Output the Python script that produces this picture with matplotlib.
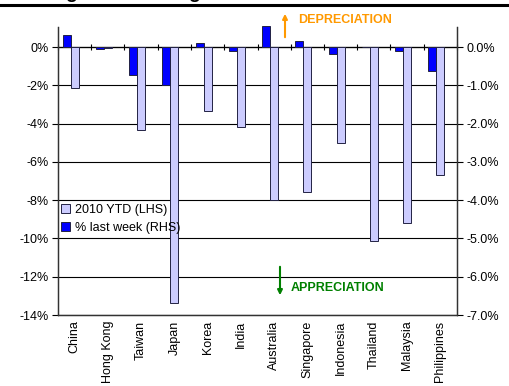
import numpy as np
import matplotlib
matplotlib.use("Agg")
import matplotlib.pyplot as plt
from matplotlib.patches import Patch

countries = ["China", "Hong Kong", "Taiwan", "Japan", "Korea", "India", "Australia",
             "Singapore", "Indonesia", "Thailand", "Malaysia", "Philippines"]
ytd_2010 = [-2.15, -0.05, -4.35, -13.35, -3.35, -4.2, -8.0, -7.55, -5.0, -10.15, -9.2, -6.7]
last_week = [0.31, -0.06, -0.72, -1.0, 0.11, -0.1, 0.55, 0.16, -0.17, 0.0, -0.1, -0.62]
lhs_ticks = [-14, -12, -10, -8, -6, -4, -2, 0]
rhs_ticks = [-7, -6, -5, -4, -3, -2, -1, 0]

plt.rcParams['font.family'] = ['Liberation Sans', 'DejaVu Sans']
plt.rcParams['font.size'] = 9

light = "#CCCCFF"
blue = "#0000FF"
edge = "#222244"

fig = plt.figure(figsize=(5.10, 3.86), dpi=100)
ax = fig.add_axes([58/510, 1-315/386, (457-58)/510, (315-27)/386])
ax2 = ax.twinx()

x = np.arange(len(countries))
w = 0.24
ax.bar(x, ytd_2010, w, color=light, edgecolor=edge, lw=0.7, zorder=3)
ax2.bar(x - w, last_week, w, color=blue, edgecolor=edge, lw=0.7, zorder=3, clip_on=False)

ymax = 1.05
ax.set_ylim(-14, ymax)
ax2.set_ylim(-7, ymax/2)
ax.set_xlim(-0.5, len(countries) - 0.5)

ax.set_yticks(lhs_ticks)
ax.set_yticklabels(["%d%%" % t for t in lhs_ticks])
ax2.set_yticks(rhs_ticks)
ax2.set_yticklabels(["%.1f%%" % t for t in rhs_ticks])
ax.grid(axis='y', color='black', lw=0.8, zorder=0)
ax.tick_params(axis='y', direction='out', length=4, width=0.8, pad=3)
ax2.tick_params(axis='y', direction='out', length=4, width=0.8, pad=3)

ax.set_xticks(x)
ax.set_xticklabels(countries, rotation=90, fontsize=9)
ax.tick_params(axis='x', length=0, pad=4)

for a in (ax, ax2):
    a.spines['top'].set_visible(False)
    for s in ('left', 'right', 'bottom'):
        a.spines[s].set_color('#333333')
        a.spines[s].set_linewidth(0.9)

# category axis crossing at zero
zero_pos = (0 - (-14)) / (ymax + 14)
sec = ax.secondary_xaxis(zero_pos)
sec.set_xticks(np.arange(-0.5, len(countries), 1))
sec.tick_params(direction='inout', length=4, width=0.8, labeltop=False, labelbottom=False)
sec.spines['top'].set_linewidth(0.9)
sec.spines['bottom'].set_linewidth(0.9)

handles = [Patch(facecolor=light, edgecolor=edge, lw=0.7, label="2010 YTD (LHS)"),
           Patch(facecolor=blue, edgecolor=edge, lw=0.7, label="% last week (RHS)")]
fig.legend(handles=handles, loc='upper left', bbox_to_anchor=(61/510, 1-204/386),
           frameon=False, fontsize=9, handlelength=0.75, handleheight=0.75,
           handletextpad=0.4, labelspacing=0.45, borderpad=0, borderaxespad=0)

orange = "#FF9900"
green = "#008000"
fig.text(298/510, 1-20/386, "DEPRECIATION", color=orange, fontsize=9, fontweight='bold', va='center')
fig.text(291/510, 1-288/386, "APPRECIATION", color=green, fontsize=9, fontweight='bold', va='center')
ax.annotate("", xy=(285/510, 1-11/386), xytext=(285/510, 1-40/386), xycoords='figure fraction',
            arrowprops=dict(arrowstyle='-|>', color=orange, lw=1.5, mutation_scale=7))
ax.annotate("", xy=(280/510, 1-298/386), xytext=(280/510, 1-264/386), xycoords='figure fraction',
            arrowprops=dict(arrowstyle='-|>', color=green, lw=1.5, mutation_scale=7))

# title rule and the bottom of the heading above it
fig.add_artist(plt.Line2D([0, 1], [1-4.5/386, 1-4.5/386], color='black', lw=2.2))
fig.text(71/510, 1+1.5/386, "g", fontsize=14, fontweight='bold', ha='center', va='baseline')
fig.text(194/510, 1+1.5/386, "g", fontsize=14, fontweight='bold', ha='center', va='baseline')

fig.savefig("out.png", dpi=100)
